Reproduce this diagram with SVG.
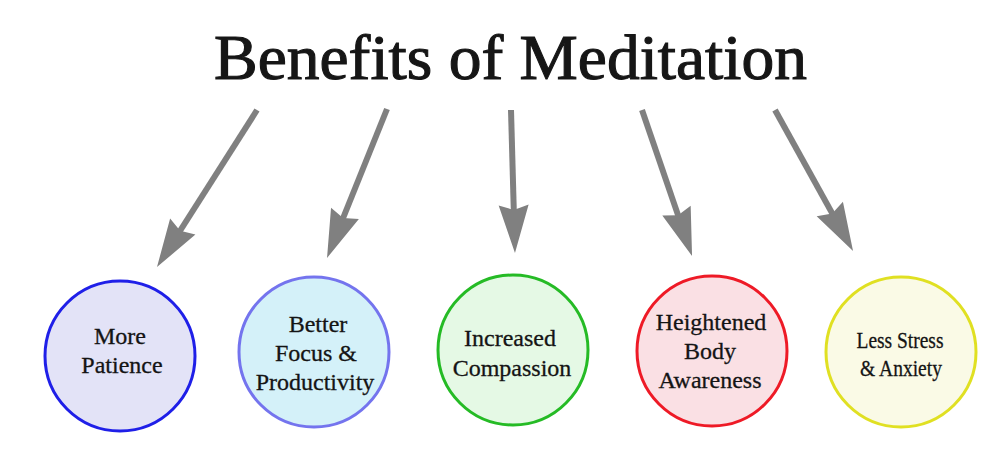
<svg xmlns="http://www.w3.org/2000/svg" width="1000" height="457" viewBox="0 0 1000 457">
  <style>
    .title { font-family: "Liberation Serif", "Times New Roman", serif; font-size: 64px; fill: #161616; stroke: #161616; stroke-width: 1.1; }
    .label { font-family: "Liberation Serif", "Times New Roman", serif; font-size: 24px; fill: #141414; stroke: #141414; stroke-width: 0.3; text-anchor: middle; }
    .conn { stroke: #808080; stroke-width: 6; fill: none; marker-end: url(#head); }
    .node { stroke-width: 3; }
  </style>
  <defs>
    <marker id="head" viewBox="-50 -17 52 34" refX="-35" refY="0" markerWidth="52" markerHeight="34" markerUnits="userSpaceOnUse" orient="auto">
      <path d="M0,0 L-48,-15 L-43,0 L-48,15 Z" fill="#808080"/>
    </marker>
  </defs>
  <rect width="1000" height="457" fill="#ffffff"/>

  <g id="title">
    <text class="title" x="214" y="79" textLength="593" lengthAdjust="spacingAndGlyphs">Benefits of Meditation</text>
  </g>

  <g id="connectors">
    <line class="conn" x1="257" y1="110" x2="175.8" y2="237.5"/>
    <line class="conn" x1="387" y1="109" x2="340.1" y2="225.5"/>
    <line class="conn" x1="511" y1="110" x2="514.0" y2="218.0"/>
    <line class="conn" x1="642" y1="110" x2="680.7" y2="222.9"/>
    <line class="conn" x1="775" y1="110" x2="836.1" y2="220.4"/>
  </g>

  <g id="patience">
    <circle class="node" cx="120" cy="356" r="75" fill="#e3e3f7" stroke="#1f1fe8"/>
    <text class="label" x="120" y="344">More</text>
    <text class="label" x="122" y="373">Patience</text>
  </g>

  <g id="focus">
    <circle class="node" cx="314" cy="352" r="75" fill="#d4f1f9" stroke="#7474ee"/>
    <text class="label" x="318" y="332">Better</text>
    <text class="label" x="316" y="361">Focus &amp;</text>
    <text class="label" x="315" y="390">Productivity</text>
  </g>

  <g id="compassion">
    <circle class="node" cx="513" cy="350" r="75" fill="#e5f9e5" stroke="#25bb25"/>
    <text class="label" x="510" y="346">Increased</text>
    <text class="label" x="512" y="376">Compassion</text>
  </g>

  <g id="awareness">
    <circle class="node" cx="712" cy="351" r="75" fill="#fae0e4" stroke="#ee1a26"/>
    <text class="label" x="711" y="330">Heightened</text>
    <text class="label" x="710" y="359">Body</text>
    <text class="label" x="710" y="388">Awareness</text>
  </g>

  <g id="stress">
    <circle class="node" cx="901" cy="352" r="75" fill="#fafae6" stroke="#e0e022"/>
    <text class="label" x="900" y="348" textLength="87" lengthAdjust="spacingAndGlyphs">Less Stress</text>
    <text class="label" x="901" y="376" textLength="82" lengthAdjust="spacingAndGlyphs">&amp; Anxiety</text>
  </g>
</svg>
